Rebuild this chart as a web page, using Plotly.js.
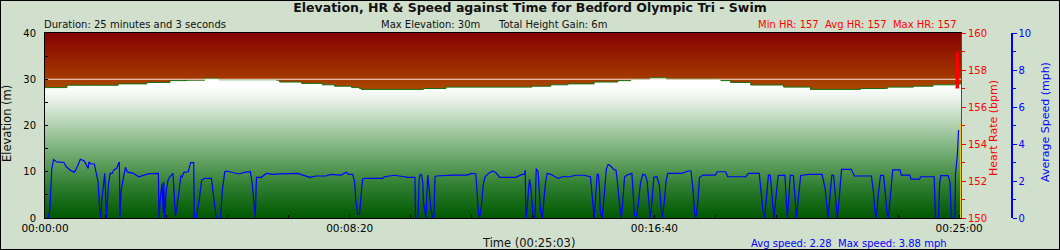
<!DOCTYPE html>
<html>
<head>
<meta charset="utf-8">
<script src="https://cdn.plot.ly/plotly-3.0.1.min.js"></script>
<style>
html,body{margin:0;padding:0;background:#d0e0cc;}
#wrap{position:relative;width:1060px;height:250px;}
#chart{width:1060px;height:250px;}
#frame{position:absolute;left:0;top:0;width:1060px;height:250px;box-sizing:border-box;border:1px solid #000;pointer-events:none;}
</style>
</head>
<body>
<div id="wrap"><div id="chart"></div><div id="frame"></div></div>
<script>
// ---------- data ----------
const chartTitle = "Elevation, HR & Speed against Time for Bedford Olympic Tri - Swim";
const durationSec = 1503;
const maxElevation = 30;

const xTickVals = [0, 500, 1000, 1500];
const xTickText = ["00:00:00", "00:08:20", "00:16:40", "00:25:00"];

// elevation (m) against time (s)
const elevTime = [0,33,36,79,120,151,167,200,205,233,259,262,282,285,364,380,385,418,421,450,455,472,475,499,503,516,519,617,621,653,658,794,799,827,830,855,858,897,901,937,940,958,961,991,992,1018,1020,1105,1109,1122,1125,1154,1158,1208,1212,1253,1256,1335,1338,1379,1382,1421,1425,1454,1457,1490,1493,1503];
const elevM = [28.2,28.2,28.7,28.7,29.0,29.0,29.3,29.3,29.7,29.8,29.8,30.2,30.2,29.9,29.9,29.8,29.4,29.4,29.1,29.1,28.8,28.8,28.5,28.5,28.2,28.0,27.8,27.8,28.0,28.0,28.3,28.3,28.5,28.5,28.8,28.8,29.0,29.0,29.4,29.4,29.7,29.7,30.0,30.0,30.3,30.3,30.0,30.0,29.7,29.7,29.3,29.3,28.75,28.75,28.3,28.3,27.8,27.8,28.0,28.0,28.3,28.3,28.5,28.5,28.8,28.8,29.0,29.1];

// average speed (mph) against time (s)
const speedTime = [5,8,11,14,19,31,35,41,48,53,58,64,68,71,72,75,81,84,87,90,92,93,96,98,101,104,107,110,113,118,121,122,123,125,128,132,135,145,154,161,169,186,187,189,192,194,195,196,199,202,205,210,212,214,217,220,223,225,228,235,239,244,245,248,253,257,262,273,275,278,281,288,291,295,298,308,318,327,337,340,343,345,347,355,363,374,385,415,423,435,445,461,469,480,486,494,498,505,508,510,513,516,519,521,524,554,557,573,590,595,607,608,612,614,616,618,620,621,625,627,628,630,633,636,638,640,642,669,693,700,707,708,711,713,716,719,722,729,735,740,746,772,778,783,787,788,789,790,793,795,797,800,801,804,806,809,811,813,816,819,821,824,830,842,849,860,871,884,895,897,899,901,903,906,908,910,911,914,917,920,921,924,928,933,937,940,943,946,948,951,955,963,965,967,970,973,977,981,985,988,991,993,996,999,1004,1008,1011,1013,1016,1019,1022,1045,1055,1060,1063,1066,1068,1071,1074,1080,1100,1103,1117,1120,1150,1154,1172,1175,1178,1181,1184,1187,1190,1193,1196,1199,1203,1214,1216,1218,1220,1223,1228,1231,1233,1236,1240,1253,1275,1280,1283,1285,1288,1291,1294,1297,1300,1303,1307,1323,1328,1356,1359,1362,1364,1367,1371,1376,1379,1382,1384,1387,1391,1403,1405,1419,1421,1435,1437,1459,1461,1466,1468,1470,1482,1485,1487,1493,1494,1497,1499];
const speedMph = [0,0.43,2.6,3.17,3.03,3.0,2.77,2.6,2.47,2.77,3.17,3.1,2.86,2.68,3.03,2.92,2.92,2.41,1.96,0.34,0,0.88,1.96,2.41,0,1.8,2.41,2.41,2.6,2.7,3.0,3.0,0,1.5,2.05,2.74,2.49,2.41,2.23,2.29,2.38,2.41,0,0.97,1.87,0.3,1.96,0,1.5,2.05,2.23,2.41,1.33,0.1,0.7,1.5,2.27,2.23,2.47,2.5,2.99,2.99,0,0,0.97,2.05,2.14,2.14,1.69,0.79,0,0,1.5,2.5,2.54,2.47,2.38,2.47,2.5,1.87,0.61,0,2.2,2.2,2.41,2.36,2.38,2.41,2.32,2.2,2.27,2.27,2.36,2.36,2.32,2.47,2.36,2.36,1.96,0.97,0.2,0.2,1.15,2.09,2.14,2.14,2.23,2.31,2.23,2.2,2.2,0,0,2.14,2.36,2.32,1.87,0.88,0,1.87,2.32,1.69,0.52,0,0,2.23,2.27,2.32,2.32,2.41,2.38,1.87,0.34,0,0.61,1.78,2.23,2.45,2.54,2.45,2.2,2.2,2.31,2.36,2.36,2.59,0.16,0,1.33,2.09,1.69,0.61,0.1,0,2.68,2.5,1.15,0.4,0,0.97,1.87,2.41,2.36,2.14,2.23,2.23,2.31,2.31,2.23,1.5,0.61,0,0.9,2.36,2.36,1.5,0.4,0,0.97,2.41,2.63,2.9,2.81,2.63,2.59,1.69,0.61,0,0.97,2.23,2.32,2.41,1.33,0.2,0,0.61,1.87,2.36,2.32,2.0,0.8,0,0.9,2.2,2.23,1.8,0.5,0,0.8,2.0,2.41,2.41,2.54,2.54,1.6,0.3,0,0.8,2.2,2.32,2.32,2.5,2.5,2.23,2.23,2.41,2.41,1.5,0.4,0,1.0,2.32,2.32,1.2,0,1.0,2.3,2.32,1.0,0,0.9,2.32,2.3,1.0,0,1.0,2.3,2.36,2.36,1.6,0.4,0,1.2,2.3,2.3,1.3,0,1.0,2.63,2.63,2.27,2.27,1.5,0.3,0,1.2,2.3,2.3,1.3,0.2,0,1.3,2.6,2.6,2.32,2.32,2.1,2.1,2.23,2.23,0,0,1.9,2.29,2.29,1.9,0,0,2.41,3.38,4.76];

// heart rate (bpm)
const hrTime = [1496, 1497, 1498];
const hrBpm = [157, 159, 157];

// yellow end marker (elevation units)
const endMarkElev = [0, 20.5];

const statsLeft = "Duration: 25 minutes and 3 seconds";
const statsMid1 = "Max Elevation: 30m";
const statsMid2 = "Total Height Gain: 6m";
const statsHR = "Min HR: 157\u00a0 Avg HR: 157\u00a0 Max HR: 157";
const statsSpeed = "Avg speed: 2.28\u00a0 Max speed: 3.88 mph";
const xTitle = "Time (00:25:03)";

// ---------- layout helpers ----------
const L = 45, R = 20, T = 33, B = 32, W = 1060, H = 250;
const PW = W - L - R, PH = H - T - B;
const px = X => (X - L) / PW;
const py = Y => (H - B - Y) / PH;
const FONT = "DejaVu Sans, Verdana, sans-serif";

const traces = [
  { // plot background gradient (red)
    x: [0, durationSec], y: [40, 40], type: 'scatter', mode: 'lines',
    fill: 'tozeroy', line: {width: 0, color: 'rgba(0,0,0,0)'},
    fillgradient: {type: 'vertical', start: 27, stop: 40,
      colorscale: [[0, '#ad4c00'], [0.5, '#9a2600'], [1, '#850300']]},
    hoverinfo: 'skip', showlegend: false
  },
  { // elevation
    x: elevTime, y: elevM, type: 'scatter', mode: 'lines', line: {shape: 'hv', color: '#157010', width: 1},
    fill: 'tozeroy',
    fillgradient: {type: 'vertical', start: 0, stop: 28.3,
      colorscale: [[0, '#005800'], [0.25, '#2f7f31'], [0.5, '#74ad74'], [0.75, '#bcd8bc'], [0.92, '#edf4ed'], [1, '#ffffff']]},
    showlegend: false
  },
  { // max elevation line
    x: [0, durationSec], y: [maxElevation, maxElevation], type: 'scatter', mode: 'lines',
    line: {color: '#fbe6da', width: 1}, showlegend: false
  },
  { // end marker
    x: [durationSec, durationSec], y: endMarkElev, type: 'scatter', mode: 'lines',
    line: {color: '#e8d000', width: 2}, showlegend: false
  },
  { // heart rate
    x: hrTime, y: hrBpm, yaxis: 'y2', type: 'scatter', mode: 'lines',
    line: {color: '#ff0000', width: 2.5}, showlegend: false
  },
  { // speed
    x: speedTime, y: speedMph, yaxis: 'y3', type: 'scatter', mode: 'lines',
    line: {color: '#0000ff', width: 1.2}, showlegend: false
  }
];

const annFont = (size, color) => ({family: FONT, size: size, color: color});
const annotations = [
  {text: statsLeft, x: px(43), y: py(24), xanchor: 'left', yanchor: 'middle', font: annFont(10, '#111')},
  {text: statsMid1, x: px(380), y: py(24), xanchor: 'left', yanchor: 'middle', font: annFont(10, '#111')},
  {text: statsMid2, x: px(497), y: py(24), xanchor: 'left', yanchor: 'middle', font: annFont(10, '#111')},
  {text: statsHR, x: px(958), y: py(24), xanchor: 'right', yanchor: 'middle', font: annFont(10, '#ff0000')},
  {text: xTitle, x: px(528), y: py(243), xanchor: 'center', yanchor: 'middle', font: annFont(11.5, '#111')},
  {text: statsSpeed, x: px(750), y: py(243), xanchor: 'left', yanchor: 'middle', font: annFont(10, '#0000ff')},
  {text: 'Elevation (m)', x: px(7), y: py(124), xanchor: 'center', yanchor: 'middle', textangle: -90, font: annFont(11.5, '#111')},
  {text: 'Heart Rate (bpm)', x: px(993), y: py(128), xanchor: 'center', yanchor: 'middle', textangle: -90, font: annFont(11, '#ff0000')},
  {text: 'Average Speed (mph)', x: px(1045), y: py(122), xanchor: 'center', yanchor: 'middle', textangle: -90, font: annFont(11, '#0000ff')}
].map(a => Object.assign({xref: 'paper', yref: 'paper', showarrow: false, borderpad: 0}, a));

const layout = {
  width: W, height: H,
  margin: {l: L, r: R, t: T, b: B, pad: 0},
  paper_bgcolor: '#d0e0cc', plot_bgcolor: '#d0e0cc',
  font: {family: FONT, size: 10, color: '#000'},
  title: {text: '<b>' + chartTitle + '</b>', x: 0.5, xref: 'container', xanchor: 'center',
          y: 1 - 8 / H, yref: 'container', yanchor: 'middle', font: {family: FONT, size: 12.5, color: '#111'}},
  xaxis: {
    domain: [0, 916 / PW], range: [0, durationSec], showgrid: false, zeroline: false,
    tickmode: 'array', tickvals: xTickVals, ticktext: xTickText,
    ticks: 'inside', ticklen: 3, tickcolor: '#000', tickfont: {family: FONT, size: 10.5, color: '#000'},
    minor: {dtick: 100, tick0: 0, ticks: 'inside', ticklen: 3, tickcolor: '#000', showgrid: false},
    showline: true, linecolor: '#000', linewidth: 1, mirror: true
  },
  yaxis: {
    range: [0, 40], dtick: 10, showgrid: false, zeroline: false,
    ticks: 'inside', ticklen: 3, tickcolor: '#000', ticklabelstandoff: 6,
    tickfont: {family: FONT, size: 10, color: '#000'},
    minor: {dtick: 5, ticks: 'inside', ticklen: 3, tickcolor: '#000', showgrid: false},
    showline: true, linecolor: '#000', linewidth: 1, mirror: true
  },
  yaxis2: {
    overlaying: 'y', side: 'right', anchor: 'x', range: [150, 160], dtick: 2,
    showgrid: false, zeroline: false, showline: true, linecolor: '#ff0000', linewidth: 1,
    ticks: 'outside', ticklen: 4, tickcolor: '#ff0000', tickfont: {family: FONT, size: 10, color: '#ff0000'},
    minor: {dtick: 1, ticks: 'outside', ticklen: 3, tickcolor: '#ff0000', showgrid: false}
  },
  yaxis3: {
    overlaying: 'y', side: 'right', anchor: 'free', position: px(1011), range: [0, 10], dtick: 2,
    showgrid: false, zeroline: false, showline: true, linecolor: '#0000ff', linewidth: 1.5,
    ticks: 'outside', ticklen: 4, tickcolor: '#0000ff', tickfont: {family: FONT, size: 10, color: '#0000ff'},
    minor: {dtick: 1, ticks: 'outside', ticklen: 3, tickcolor: '#0000ff', showgrid: false}
  },
  annotations: annotations,
  showlegend: false
};

Plotly.newPlot('chart', traces, layout, {staticPlot: true, displayModeBar: false});
</script>
</body>
</html>
